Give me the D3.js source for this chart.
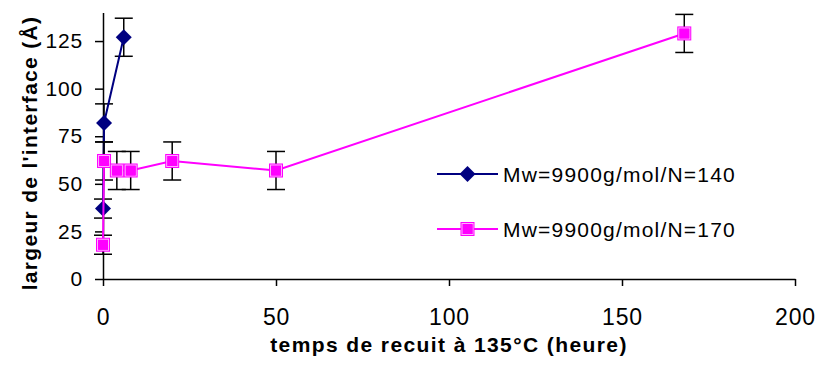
<!DOCTYPE html>
<html><head><meta charset="utf-8">
<script src="https://cdn.jsdelivr.net/npm/d3@7"></script>
<style>body{margin:0;background:#fff}</style>
</head><body><svg id="c" width="818" height="378"></svg>
<script>
const xTicks = [0, 50, 100, 150, 200];
const yTicks = [0, 25, 50, 75, 100, 125];
const s1Name = "Mw=9900g/mol/N=140";
const s1X = [0, 0.3, 6];
const s1Y = [37, 82, 127];
const s1Err = [5, 10, 10];
const s2Name = "Mw=9900g/mol/N=170";
const s2X = [0, 0.3, 4, 8, 20, 50, 168];
const s2Y = [18, 62, 57, 57, 62, 57, 129];
const s2Err = [5, 10, 10, 10, 10, 10, 10];
const xTitle = "temps de recuit à 135°C (heure)";
const yTitle = "largeur de l'interface (Å)";

const svg = d3.select("#c");
const font = "'Liberation Sans', Arial, sans-serif";
const x = d3.scaleLinear().domain([0, 200]).range([103, 795]);
const y = d3.scaleLinear().domain([0, 140]).range([279, 12.5]);

const xa = svg.append("g").attr("transform", "translate(0,279)")
  .call(d3.axisBottom(x).tickValues(xTicks).tickSize(7).tickSizeOuter(0));
const ya = svg.append("g").attr("transform", "translate(103,0)")
  .call(d3.axisLeft(y).tickValues(yTicks).tickSize(8).tickSizeOuter(0).tickPadding(12));
[xa, ya].forEach(a => {
  a.attr("font-family", font);
  a.selectAll("path,line").attr("stroke", "#000").attr("stroke-width", 1.5);
  a.selectAll("text").attr("fill", "#000");
});
xa.selectAll("text").attr("font-size", 23).attr("y", 46).attr("dy", 0).attr("letter-spacing", 0.8);
ya.selectAll("text").attr("font-size", 21).attr("letter-spacing", 0.8);

function drawMarker(g, cx, cy, color, shape) {
  if (shape === "diamond") {
    g.append("path").attr("d", `M${cx},${cy-8}L${cx+8},${cy}L${cx},${cy+8}L${cx-8},${cy}Z`).attr("fill", color);
  } else {
    g.append("rect").attr("x", cx - 7).attr("y", cy - 7).attr("width", 14).attr("height", 14).attr("fill", color);
    g.append("rect").attr("x", cx - 5.5).attr("y", cy - 5.5).attr("width", 11).attr("height", 11)
      .attr("fill", "none").attr("stroke", "#ffb0ff").attr("stroke-width", 1);
    g.append("rect").attr("x", cx - 4.5).attr("y", cy - 4.5).attr("width", 9.5).attr("height", 9.5).attr("fill", color);
  }
}
function series(X, Y, E, color, shape) {
  const pts = X.map((v, i) => ({x: v, y: Y[i], e: E[i]}));
  const g = svg.append("g");
  pts.forEach(p => {
    const eb = g.append("g").attr("stroke", "#000").attr("stroke-width", 1.5);
    eb.append("line").attr("x1", x(p.x)).attr("x2", x(p.x)).attr("y1", y(p.y - p.e)).attr("y2", y(p.y + p.e));
    [p.y - p.e, p.y + p.e].forEach(v => eb.append("line").attr("x1", x(p.x) - 9).attr("x2", x(p.x) + 9).attr("y1", y(v)).attr("y2", y(v)));
  });
  g.append("path").datum(pts)
    .attr("d", d3.line().x(d => x(d.x)).y(d => y(d.y)))
    .attr("fill", "none").attr("stroke", color).attr("stroke-width", 2);
  pts.forEach(p => drawMarker(g, x(p.x), y(p.y), color, shape));
}
series(s1X, s1Y, s1Err, "#000080", "diamond");
series(s2X, s2Y, s2Err, "#ff00ff", "square");

[[s1Name, "#000080", "diamond", 174], [s2Name, "#ff00ff", "square", 229]].forEach(([name, c, sh, ly]) => {
  const g = svg.append("g");
  g.append("line").attr("x1", 437).attr("x2", 498).attr("y1", ly).attr("y2", ly).attr("stroke", c).attr("stroke-width", 2);
  drawMarker(g, 467.5, ly, c, sh);
  g.append("text").attr("x", 503).attr("y", ly + 7.5).text(name)
    .attr("font-family", font).attr("font-size", 21).attr("letter-spacing", 1.2).attr("fill", "#000");
});

svg.append("text").attr("x", 449).attr("y", 352).attr("text-anchor", "middle").text(xTitle)
  .attr("font-family", font).attr("font-size", 21).attr("font-weight", "bold").attr("letter-spacing", 1.4);
svg.append("text").attr("transform", "translate(37,153) rotate(-90)").attr("text-anchor", "middle").text(yTitle)
  .attr("font-family", font).attr("font-size", 21).attr("font-weight", "bold").attr("letter-spacing", 1.3);
</script></body></html>
